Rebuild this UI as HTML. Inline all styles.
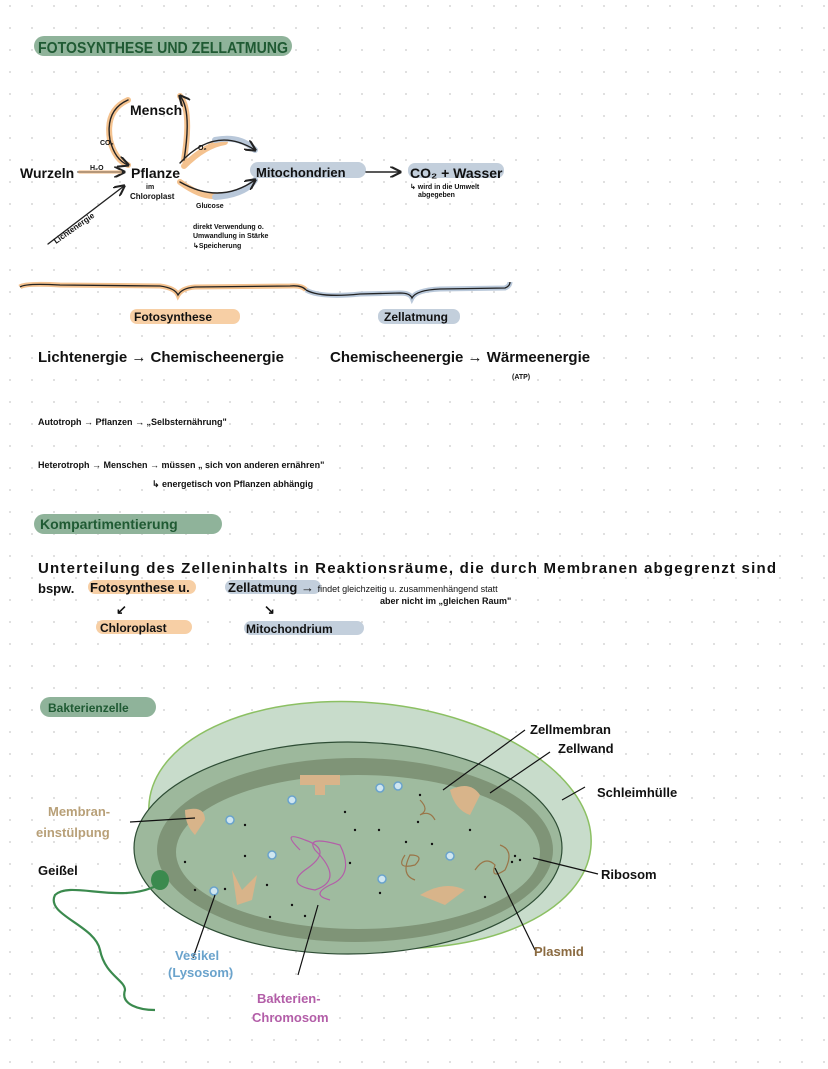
<!DOCTYPE html>
<html><head><meta charset="utf-8"><style>
body{margin:0;background:#fff}
svg{display:block}
text{font-family:"Liberation Sans",sans-serif;font-weight:bold}
</style></head><body>
<svg width="828" height="1069" viewBox="0 0 828 1069" xmlns="http://www.w3.org/2000/svg">
<defs>
<pattern id="dots" width="22" height="22" patternUnits="userSpaceOnUse" x="8" y="4">
<circle cx="2" cy="2" r="1" fill="#d6d6d6"/></pattern>
<marker id="ar" markerWidth="8" markerHeight="8" refX="7" refY="4" orient="auto"><path d="M0,0 L8,4 L0,8" fill="none" stroke="#222" stroke-width="1.5"/></marker>
</defs>
<rect width="828" height="1069" fill="url(#dots)"/>

<!-- title -->
<rect x="34" y="36" width="258" height="20" rx="10" fill="#8fb39a"/>
<text x="38" y="53" font-size="16" fill="#1f5a33" textLength="250" lengthAdjust="spacingAndGlyphs">FOTOSYNTHESE  UND ZELLATMUNG</text>

<!-- cycle diagram -->
<g fill="none" stroke-linecap="round">
<path d="M128,100 Q105,110 110,140 Q115,160 128,165" stroke="#f4c28f" stroke-width="6"/>
<path d="M180,96 Q192,110 184,160" stroke="#f4c28f" stroke-width="6"/>
<path d="M184,166 Q205,145 225,142" stroke="#f4c28f" stroke-width="6"/>
<path d="M215,140 Q240,135 255,150" stroke="#b9c8da" stroke-width="6"/>
<path d="M180,182 Q205,200 220,195" stroke="#f4c28f" stroke-width="6"/>
<path d="M215,197 Q245,195 255,180" stroke="#b9c8da" stroke-width="6"/>
<rect x="250" y="162" width="116" height="16" rx="8" fill="#c3cfdc" stroke="none"/>
<rect x="408" y="163" width="96" height="15" rx="7" fill="#c3cfdc" stroke="none"/>
<g stroke="#222" stroke-width="1.4">
<path d="M128,100 Q105,110 110,140 Q115,160 128,165" marker-end="url(#ar)"/>
<path d="M184,160 Q192,110 180,96" marker-end="url(#ar)"/>
<path d="M180,163 Q215,125 255,150" marker-end="url(#ar)"/>
<path d="M180,182 Q220,205 255,180" marker-end="url(#ar)"/>
<line x1="78" y1="172" x2="124" y2="172" marker-end="url(#ar)"/>
<line x1="48" y1="244" x2="124" y2="186" marker-end="url(#ar)"/>
<line x1="366" y1="172" x2="400" y2="172" marker-end="url(#ar)"/>
</g>
<line x1="80" y1="172" x2="120" y2="172" stroke="#f4c28f" stroke-width="4" opacity="0.6"/>
</g>
<text x="130" y="115" font-size="14" fill="#111">Mensch</text>
<text x="100" y="145" font-size="7" fill="#111">CO₂</text>
<text x="198" y="150" font-size="7" fill="#111">O₂</text>
<text x="20" y="178" font-size="14" fill="#111">Wurzeln</text>
<text x="90" y="170" font-size="7" fill="#111">H₂O</text>
<text x="131" y="178" font-size="14" fill="#111">Pflanze</text>
<text x="146" y="189" font-size="7" fill="#111">im</text>
<text x="130" y="199" font-size="8" fill="#111">Chloroplast</text>
<text x="196" y="208" font-size="7" fill="#111">Glucose</text>
<text x="256" y="177" font-size="13" fill="#111">Mitochondrien</text>
<text x="410" y="178" font-size="14" fill="#111">CO₂ + Wasser</text>
<text x="410" y="189" font-size="7" fill="#111">↳ wird in die Umwelt</text>
<text x="418" y="197" font-size="7" fill="#111">abgegeben</text>
<text x="56" y="244" font-size="8" fill="#111" transform="rotate(-35 56 244)">Lichtenergie</text>
<text x="193" y="229" font-size="7" fill="#111">direkt Verwendung o.</text>
<text x="193" y="238" font-size="7" fill="#111">Umwandlung in Stärke</text>
<text x="193" y="248" font-size="7" fill="#111">↳Speicherung</text>

<!-- braces -->
<path d="M20,287 Q25,283 60,285 L160,286 Q175,288 178,295 Q182,288 195,287 L290,286 Q302,285 306,290" fill="none" stroke="#f4c28f" stroke-width="5"/>
<path d="M20,287 Q25,283 60,285 L160,286 Q175,288 178,295 Q182,288 195,287 L290,286 Q302,285 306,290" fill="none" stroke="#222" stroke-width="1.3"/>
<path d="M306,290 Q320,298 360,294 L400,293 Q410,293 412,298 Q416,290 440,289 L505,288 Q510,286 510,282" fill="none" stroke="#b9c8da" stroke-width="5"/>
<path d="M306,290 Q320,298 360,294 L400,293 Q410,293 412,298 Q416,290 440,289 L505,288 Q510,286 510,282" fill="none" stroke="#222" stroke-width="1.3"/>
<rect x="130" y="309" width="110" height="15" rx="7" fill="#f7cfa5"/>
<text x="134" y="321" font-size="12" fill="#111">Fotosynthese</text>
<rect x="378" y="309" width="82" height="15" rx="7" fill="#c3cfdc"/>
<text x="384" y="321" font-size="12" fill="#111">Zellatmung</text>

<text x="38" y="362" font-size="15" fill="#111">Lichtenergie → Chemischeenergie</text>
<text x="330" y="362" font-size="15" fill="#111">Chemischeenergie → Wärmeenergie</text>
<text x="512" y="379" font-size="7" fill="#111">(ATP)</text>

<text x="38" y="425" font-size="9" font-weight="normal" fill="#111">Autotroph → Pflanzen → „Selbsternährung"</text>
<text x="38" y="468" font-size="9" font-weight="normal" fill="#111">Heterotroph → Menschen → müssen „ sich von anderen ernähren"</text>
<text x="152" y="487" font-size="9" font-weight="normal" fill="#111">↳ energetisch von Pflanzen abhängig</text>

<rect x="34" y="514" width="188" height="20" rx="10" fill="#8fb39a"/>
<text x="40" y="529" font-size="14" fill="#1f5a33">Kompartimentierung</text>

<text x="38" y="573" font-size="15" fill="#111" textLength="738">Unterteilung des Zelleninhalts in Reaktionsräume, die durch Membranen abgegrenzt sind</text>
<text x="38" y="593" font-size="13" fill="#111">bspw.</text>
<rect x="88" y="580" width="108" height="14" rx="7" fill="#f7cfa5"/>
<text x="90" y="592" font-size="13" fill="#111">Fotosynthese  u.</text>
<rect x="225" y="580" width="96" height="14" rx="7" fill="#c3cfdc"/>
<text x="228" y="592" font-size="13" fill="#111">Zellatmung → <tspan font-size="9" font-weight="normal">findet gleichzeitig u. zusammenhängend statt</tspan></text>
<text x="380" y="604" font-size="9" font-weight="normal" fill="#111">aber nicht im „gleichen Raum"</text>
<text x="116" y="614" font-size="13" fill="#111">↙</text>
<text x="264" y="614" font-size="13" fill="#111">↘</text>
<rect x="96" y="620" width="96" height="14" rx="7" fill="#f7cfa5"/>
<text x="100" y="632" font-size="12" fill="#111">Chloroplast</text>
<rect x="244" y="621" width="120" height="14" rx="7" fill="#c3cfdc"/>
<text x="246" y="633" font-size="12" fill="#111">Mitochondrium</text>

<rect x="40" y="697" width="116" height="20" rx="10" fill="#8fb39a"/>
<text x="48" y="712" font-size="12" fill="#1f5a33">Bakterienzelle</text>

<!-- bacterium -->
<ellipse cx="370" cy="825" rx="222" ry="122" fill="#c8dccb" stroke="#8cc063" stroke-width="1.5" transform="rotate(6 370 825)"/>
<ellipse cx="348" cy="848" rx="214" ry="106" fill="#9db89c" stroke="#2e4d35" stroke-width="1.2"/>
<ellipse cx="355" cy="850" rx="198" ry="92" fill="#7f9477"/>
<ellipse cx="358" cy="852" rx="182" ry="77" fill="#9fbb9f"/>
<g fill="#d8b48a">
<path d="M300,775 h40 v10 h-15 v10 h-10 v-10 h-15z"/>
<path d="M450,790 q20,-10 30,5 l-10,20 q-15,-5 -20,-25z"/>
<path d="M185,810 q20,-5 20,10 l-10,15 q-10,-10 -10,-25z"/>
<path d="M232,870 l10,20 l15,-15 l-5,25 l-15,5z"/>
<path d="M420,895 q25,-15 45,-5 l-20,15 z"/>
</g>
<g fill="#cfe6f0" stroke="#6aa3cc" stroke-width="1.5">
<circle cx="292" cy="800" r="4"/><circle cx="230" cy="820" r="4"/><circle cx="380" cy="788" r="4"/><circle cx="398" cy="786" r="4"/>
<circle cx="450" cy="856" r="4"/><circle cx="272" cy="855" r="4"/><circle cx="382" cy="879" r="4"/><circle cx="214" cy="891" r="4"/>
</g>
<g fill="#111">
<circle cx="245" cy="856" r="1.2"/><circle cx="267" cy="885" r="1.2"/><circle cx="345" cy="812" r="1.2"/><circle cx="355" cy="830" r="1.2"/><circle cx="379" cy="830" r="1.2"/><circle cx="406" cy="842" r="1.2"/><circle cx="432" cy="844" r="1.2"/><circle cx="380" cy="893" r="1.2"/><circle cx="185" cy="862" r="1.2"/><circle cx="225" cy="889" r="1.2"/><circle cx="292" cy="905" r="1.2"/><circle cx="305" cy="916" r="1.2"/><circle cx="350" cy="863" r="1.2"/><circle cx="418" cy="822" r="1.2"/><circle cx="470" cy="830" r="1.2"/><circle cx="485" cy="897" r="1.2"/><circle cx="195" cy="890" r="1.2"/><circle cx="420" cy="795" r="1.2"/><circle cx="245" cy="825" r="1.2"/><circle cx="270" cy="917" r="1.2"/>
<circle cx="515" cy="856" r="1.2"/><circle cx="520" cy="860" r="1.2"/><circle cx="512" cy="862" r="1.2"/>
</g>
<g fill="none" stroke-width="1.2">
<path d="M300,850 q-20,-20 5,-10 q30,10 0,30 q-20,15 10,20 q30,-10 0,-40 q-10,-15 25,-5 q15,30 -10,40 q-20,10 0,15" stroke="#b35ea8"/>
<path d="M405,855 q-10,15 10,10 q10,-10 -5,-10 q-10,20 5,25" stroke="#9a7548"/>
<path d="M475,870 q10,-15 20,-5 q-5,15 10,5 q10,-20 -5,-25" stroke="#9a7548"/>
<path d="M420,800 q10,10 0,15 q10,-5 15,5" stroke="#9a7548"/>
</g>
<path d="M158,885 C120,905 70,880 55,895 C45,915 95,925 100,950 C105,975 125,980 125,990 C120,1005 140,1010 155,1010" fill="none" stroke="#3b8a4e" stroke-width="2.2"/>
<ellipse cx="160" cy="880" rx="9" ry="10" fill="#3b8a4e"/>
<g stroke="#111" stroke-width="1.2" fill="none">
<line x1="130" y1="822" x2="195" y2="818"/>
<line x1="193" y1="958" x2="215" y2="895"/>
<line x1="298" y1="975" x2="318" y2="905"/>
<line x1="443" y1="790" x2="525" y2="730"/>
<line x1="490" y1="793" x2="550" y2="752"/>
<line x1="562" y1="800" x2="585" y2="787"/>
<line x1="533" y1="858" x2="598" y2="874"/>
<line x1="535" y1="950" x2="495" y2="868"/>
</g>
<text x="48" y="816" font-size="13" fill="#b8a078">Membran-</text>
<text x="36" y="837" font-size="13" fill="#b8a078">einstülpung</text>
<text x="38" y="875" font-size="13" fill="#111">Geißel</text>
<text x="175" y="960" font-size="13" fill="#6aa3cc">Vesikel</text>
<text x="168" y="977" font-size="13" fill="#6aa3cc">(Lysosom)</text>
<text x="257" y="1003" font-size="13" fill="#b35ea8">Bakterien-</text>
<text x="252" y="1022" font-size="13" fill="#b35ea8">Chromosom</text>
<text x="530" y="734" font-size="13" fill="#111">Zellmembran</text>
<text x="558" y="753" font-size="13" fill="#111">Zellwand</text>
<text x="597" y="797" font-size="13" fill="#111">Schleimhülle</text>
<text x="601" y="879" font-size="13" fill="#111">Ribosom</text>
<text x="534" y="956" font-size="13" fill="#8a6a40">Plasmid</text>
</svg>
</body></html>
